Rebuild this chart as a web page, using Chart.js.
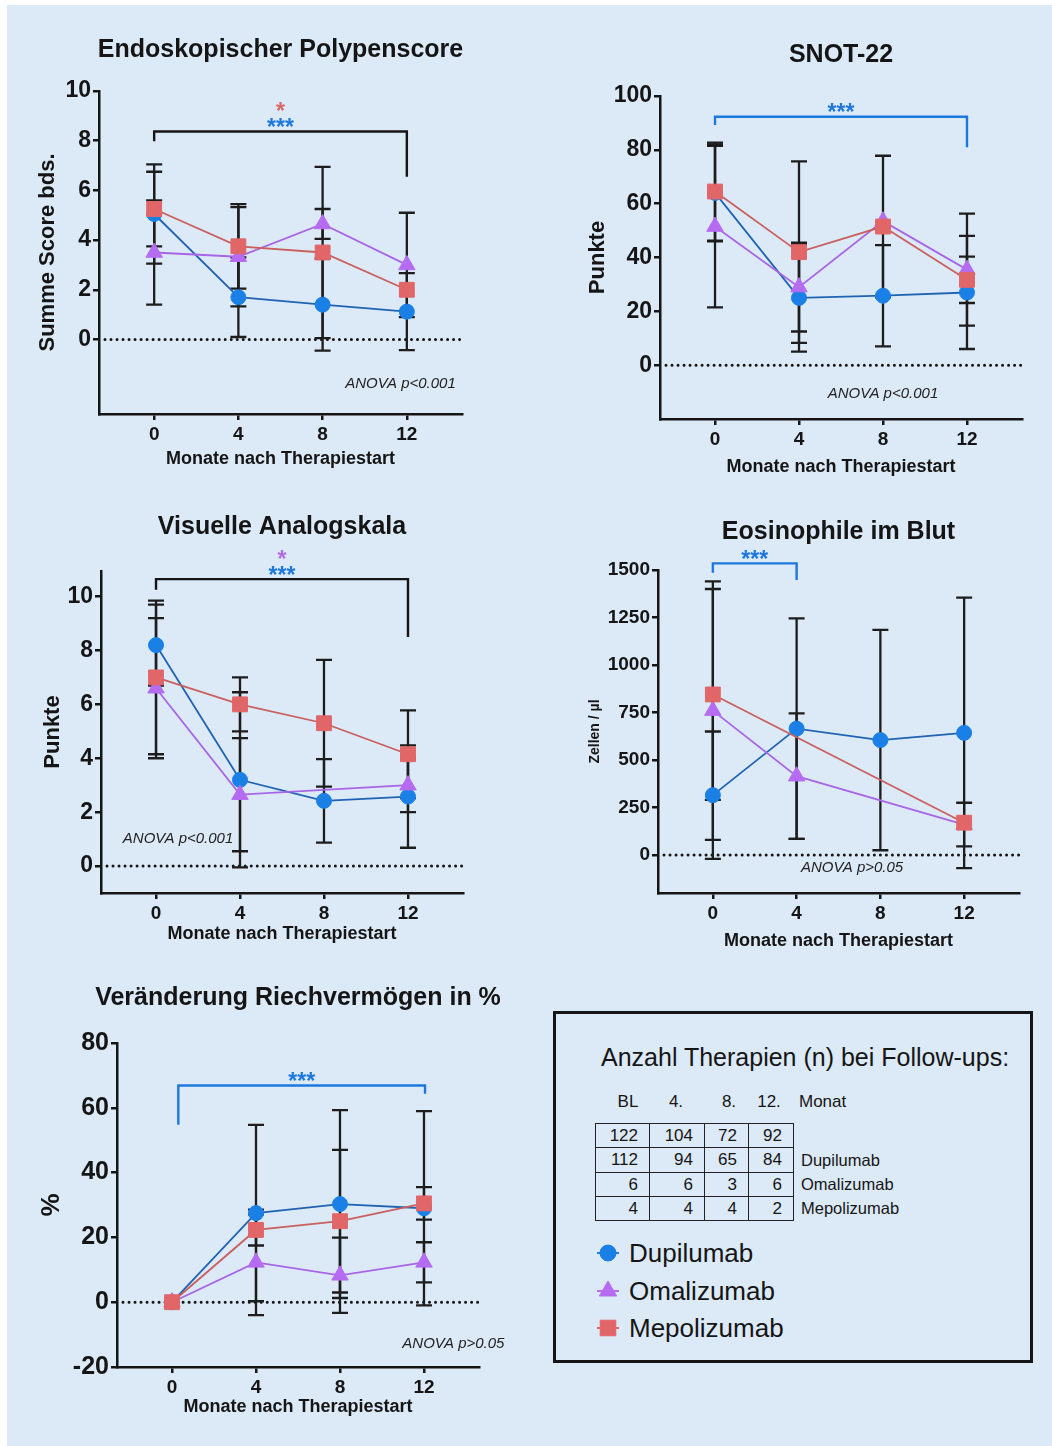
<!DOCTYPE html>
<html>
<head>
<meta charset="utf-8">
<script src="https://cdn.jsdelivr.net/npm/chart.js@4.4.1/dist/chart.umd.min.js"></script>
<style>
html, body { margin: 0; padding: 0; }
body { width: 1052px; height: 1446px; position: relative; overflow: hidden; background: #fff;
       font-family: 'Liberation Sans', Arial, Helvetica, sans-serif; color: #151515; }
#bg { position: absolute; left: 7px; top: 5px; right: 0; bottom: 0; background: #dce9f6; }
canvas { position: absolute; }
.abs { position: absolute; white-space: nowrap; }
#legendBox { position: absolute; left: 553px; top: 1011px; width: 480px; height: 352px;
             box-sizing: border-box; border: 3px solid #151515; }
#ntab { position: absolute; left: 595px; top: 1123px; border-collapse: collapse; table-layout: fixed; }
#ntab tr { height: 24.3px; }
#ntab td { border: 1.5px solid #222; padding: 0 11px 0 0; text-align: right;
           font-size: 17px; line-height: 21px; }
</style>
</head>
<body>
<div id="bg"></div>
<div id="legendBox"></div>

<script>
// ---- data ----
const months = [0, 4, 8, 12];
const xTicks = [0, 4, 8, 12];
const drugs = ['Dupilumab', 'Omalizumab', 'Mepolizumab'];
const fillColors = ['#1b80e6', '#b56cf0', '#e06668'];
const lineColors = ['#1f63b3', '#a865e6', '#c9605f'];
const shapes = ['circle', 'triangle', 'rect'];
const radii = [7.5, 9.5, 10.5];

// Endoskopischer Polypenscore (mean, SD)
const npsDupi = [5.05, 1.7, 1.4, 1.12];
const npsDupiSd = [2.0, 1.6, 1.85, 1.55];
const npsOmal = [3.5, 3.33, 4.65, 3.0];
const npsOmalSd = [2.1, 2.0, 0.6, 2.1];
const npsMepo = [5.25, 3.75, 3.5, 2.0];
const npsMepoSd = [1.5, 1.7, 3.45, 0];
const npsTicks = [0, 2, 4, 6, 8, 10];

// SNOT-22
const snotDupi = [64, 25, 25.8, 27];
const snotDupiSd = [18, 20, 18.8, 21];
const snotOmal = [51.5, 29, 53.5, 35.5];
const snotOmalSd = [30, 16.5, 0, 20.8];
const snotMepo = [64.5, 42, 51.5, 31.7];
const snotMepoSd = [18.2, 33.7, 26.3, 8.6];
const snotTicks = [0, 20, 40, 60, 80, 100];

// Visuelle Analogskala
const vasDupi = [8.2, 3.2, 2.42, 2.58];
const vasDupiSd = [1.5, 3.25, 1.55, 1.9];
const vasOmal = [6.6, 2.65, null, 3.0];
const vasOmalSd = [2.6, 2.1, null, 1.0];
const vasMepo = [7.0, 6.0, 5.3, 4.15];
const vasMepoSd = [2.85, 1.0, 2.35, 1.63];
const vasTicks = [0, 2, 4, 6, 8, 10];

// Eosinophile im Blut
const eosDupi = [315, 665, 605, 643];
const eosDupiSd = [335, 580, 580, 712];
const eosOmal = [760, 415, null, 160];
const eosOmalSd = [680, 330, null, 115];
const eosMepo = [845, null, null, 170];
const eosMepoSd = [555, null, null, 0];
const eosTicks = [0, 250, 500, 750, 1000, 1250, 1500];

// Veränderung Riechvermögen in %
const smellDupi = [0, 27.5, 30.3, 29.0];
const smellDupiSd = [0, 27.2, 29, 30];
const smellOmal = [0, 12.3, 8.3, 12.3];
const smellOmalSd = [0, 16.3, 11.6, 6.2];
const smellMepo = [0, 22.3, 25.0, 30.5];
const smellMepoSd = [0, 4.8, 22, 5];
const smellTicks = [-20, 0, 20, 40, 60, 80];

// Anzahl Therapien (n)
const nHeaders = ['BL', '4.', '8.', '12.'];
const nTotal = [122, 104, 72, 92];
const nDupi = [112, 94, 65, 84];
const nOmal = [6, 6, 3, 6];
const nMepo = [4, 4, 4, 2];

// ---- style ----
const ink = '#151515';
const blue = '#1c78de';
const red = '#d9676a';
const purple = '#b36ae8';
const family = "'Liberation Sans', Arial, Helvetica, sans-serif";

const panels = [
  { title: 'Endoskopischer Polypenscore', titleGap: 41,
    box: { x: 20, y: 20, w: 490, h: 460 }, area: { l: 99, t: 91, r: 462, b: 414 },
    yMin: -3, yMax: 10, yTicks: npsTicks, yTitle: 'Summe Score bds.', yTitleSize: 22, yTitleX: 48,
    xTitleY: 459, tickSize: 23,
    values: [npsDupi, npsOmal, npsMepo], sd: [npsDupiSd, npsOmalSd, npsMepoSd],
    bracket: { x1: 0, x2: 12, top: 8.37, left: 7.98, right: 6.55, color: ink, stars: [['***', blue], ['*', red]] },
    anova: { text: 'ANOVA p<0.001', x: 11.7, y: -1.8 } },
  { title: 'SNOT-22', titleGap: 41,
    box: { x: 560, y: 25, w: 485, h: 460 }, area: { l: 660, t: 96, r: 1022, b: 419 },
    yMin: -20, yMax: 100, yTicks: snotTicks, yTitle: 'Punkte', yTitleSize: 22, yTitleX: 598,
    xTitleY: 467, tickSize: 23,
    values: [snotDupi, snotOmal, snotMepo], sd: [snotDupiSd, snotOmalSd, snotMepoSd],
    bracket: { x1: 0, x2: 12, top: 92.3, left: 89.2, right: 81, color: blue, stars: [['***', blue]] },
    anova: { text: 'ANOVA p<0.001', x: 8.0, y: -10.8 } },
  { title: 'Visuelle Analogskala', titleGap: 44,
    box: { x: 20, y: 495, w: 490, h: 455 }, area: { l: 101, t: 571, r: 463, b: 893 },
    yMin: -1, yMax: 10.95, yTicks: vasTicks, yTitle: 'Punkte', yTitleSize: 22, yTitleX: 53,
    xTitleY: 934, tickSize: 23,
    values: [vasDupi, vasOmal, vasMepo], sd: [vasDupiSd, vasOmalSd, vasMepoSd],
    bracket: { x1: 0, x2: 12, top: 10.65, left: 10.25, right: 8.5, color: ink, stars: [['***', blue], ['*', purple]] },
    anova: { text: 'ANOVA p<0.001', x: 1.05, y: 1.0 } },
  { title: 'Eosinophile im Blut', titleGap: 38,
    box: { x: 560, y: 495, w: 485, h: 465 }, area: { l: 658, t: 570, r: 1019, b: 893 },
    yMin: -200, yMax: 1500, yTicks: eosTicks, yTitle: 'Zellen / µl', yTitleSize: 14, yTitleX: 595,
    xTitleY: 941, tickSize: 19,
    values: [eosDupi, eosOmal, eosMepo], sd: [eosDupiSd, eosOmalSd, eosMepoSd],
    bracket: { x1: 0, x2: 4, top: 1535, left: 1486, right: 1447, color: blue, stars: [['***', blue]] },
    anova: { text: 'ANOVA p>0.05', x: 6.65, y: -68 } },
  { title: 'Veränderung Riechvermögen in %', titleGap: 45,
    box: { x: 20, y: 965, w: 515, h: 460 }, area: { l: 117, t: 1043, r: 479, b: 1367 },
    yMin: -20, yMax: 80, yTicks: smellTicks, yTitle: '%', yTitleSize: 26, yTitleX: 52,
    xTitleY: 1407, tickSize: 25,
    values: [smellDupi, smellOmal, smellMepo], sd: [smellDupiSd, smellOmalSd, smellMepoSd],
    bracket: { x1: 0.3, x2: 12.05, top: 66.9, left: 54.8, right: 64.3, color: blue, stars: [['***', blue]] },
    anova: { text: 'ANOVA p>0.05', x: 13.4, y: -12.9 } }
];

const extras = {
  id: 'extras',
  beforeDatasetsDraw(chart) {
    const { ctx, chartArea: a, scales: { x, y } } = chart;
    // dotted zero line
    ctx.save();
    ctx.strokeStyle = ink;
    ctx.lineWidth = 3;
    ctx.lineCap = 'round';
    ctx.setLineDash([0.01, 6]);
    const y0 = y.getPixelForValue(0);
    ctx.beginPath();
    ctx.moveTo(a.left + 6, y0);
    ctx.lineTo(a.right, y0);
    ctx.stroke();
    ctx.restore();

    // error bars (mean +/- SD)
    ctx.save();
    ctx.strokeStyle = '#1d1d1d';
    ctx.lineWidth = 2.3;
    chart.data.datasets.forEach(ds => {
      ds.data.forEach((pt, j) => {
        const e = ds.sd[j];
        if (pt.y == null || !e) return;
        const px = x.getPixelForValue(pt.x);
        const hi = y.getPixelForValue(pt.y + e);
        const lo = y.getPixelForValue(pt.y - e);
        ctx.beginPath();
        ctx.moveTo(px, hi); ctx.lineTo(px, lo);
        ctx.moveTo(px - 8, hi); ctx.lineTo(px + 8, hi);
        ctx.moveTo(px - 8, lo); ctx.lineTo(px + 8, lo);
        ctx.stroke();
      });
    });
    ctx.restore();
  },
  afterDraw(chart) {
    const p = chart.options.plugins.extras;
    const { ctx, chartArea: a, scales: { x, y } } = chart;
    ctx.save();
    // panel title
    ctx.fillStyle = ink;
    ctx.font = `bold 25px ${family}`;
    ctx.textAlign = 'center';
    ctx.textBaseline = 'middle';
    ctx.fillText(p.title, (a.left + a.right) / 2, a.top - p.titleGap);

    // significance bracket
    const b = p.bracket;
    const bx1 = x.getPixelForValue(b.x1), bx2 = x.getPixelForValue(b.x2);
    const by = y.getPixelForValue(b.top);
    ctx.strokeStyle = b.color;
    ctx.lineWidth = 2.4;
    ctx.beginPath();
    ctx.moveTo(bx1, y.getPixelForValue(b.left));
    ctx.lineTo(bx1, by);
    ctx.lineTo(bx2, by);
    ctx.lineTo(bx2, y.getPixelForValue(b.right));
    ctx.stroke();
    ctx.font = `bold 23px ${family}`;
    ctx.textBaseline = 'alphabetic';
    b.stars.forEach((s, k) => {
      ctx.fillStyle = s[1];
      ctx.fillText(s[0], (bx1 + bx2) / 2, by - 9.5 - 15.5 * k + 13);
    });

    // ANOVA note
    ctx.fillStyle = '#222';
    ctx.font = `italic 15px ${family}`;
    ctx.textBaseline = 'middle';
    ctx.fillText(p.anova.text, x.getPixelForValue(p.anova.x), y.getPixelForValue(p.anova.y));
    ctx.restore();
  }
};

panels.forEach(p => {
  const canvas = document.createElement('canvas');
  canvas.width = p.box.w;
  canvas.height = p.box.h;
  canvas.style.left = p.box.x + 'px';
  canvas.style.top = p.box.y + 'px';
  canvas.style.width = p.box.w + 'px';
  canvas.style.height = p.box.h + 'px';
  document.body.appendChild(canvas);

  const yWidth = p.area.l - p.box.x;
  const xHeight = p.box.y + p.box.h - p.area.b;
  const yLh = p.yTitleSize * 1.2;
  const xLh = 18 * 1.2;

  new Chart(canvas, {
    type: 'line',
    data: {
      datasets: drugs.map((name, i) => ({
        label: name,
        data: months.map((m, k) => ({ x: m, y: p.values[i][k] })),
        sd: p.sd[i],
        borderColor: lineColors[i],
        borderWidth: 1.8,
        pointStyle: shapes[i],
        pointRadius: radii[i],
        pointHoverRadius: radii[i],
        pointBackgroundColor: fillColors[i],
        pointBorderColor: fillColors[i],
        pointBorderWidth: 1,
        spanGaps: true,
        tension: 0,
        order: 2 - i
      }))
    },
    options: {
      responsive: false,
      animation: false,
      devicePixelRatio: 1,
      layout: { padding: { left: 0, top: p.area.t - p.box.y, right: p.box.x + p.box.w - p.area.r, bottom: 0 } },
      plugins: { legend: { display: false }, tooltip: { enabled: false }, extras: p },
      scales: {
        x: {
          type: 'linear', min: -2.62, max: 14.62,
          afterBuildTicks: s => { s.ticks = xTicks.map(v => ({ value: v })); },
          afterFit: s => { s.height = xHeight; },
          grid: { drawOnChartArea: false, drawTicks: true, tickLength: 6, color: ink, lineWidth: 2.5 },
          border: { display: true, color: ink, width: 2.5 },
          ticks: { color: ink, font: { family, size: 19, weight: 'bold' }, padding: 3, maxRotation: 0, autoSkip: false,
                   callback: v => String(v) },
          title: { display: true, text: 'Monate nach Therapiestart', color: ink,
                   font: { family, size: 18, weight: 'bold' },
                   padding: { top: 0, bottom: p.box.y + p.box.h - p.xTitleY - xLh / 2 } }
        },
        y: {
          type: 'linear', min: p.yMin, max: p.yMax,
          afterBuildTicks: s => { s.ticks = p.yTicks.map(v => ({ value: v })); },
          afterFit: s => { s.width = yWidth; },
          grid: { drawOnChartArea: false, drawTicks: true, tickLength: 6, color: ink, lineWidth: 2.5 },
          border: { display: true, color: ink, width: 2.5 },
          ticks: { color: ink, font: { family, size: p.tickSize, weight: 'bold' }, padding: 2, autoSkip: false,
                   callback: v => String(v) },
          title: { display: true, text: p.yTitle, color: ink,
                   font: { family, size: p.yTitleSize, weight: 'bold' },
                   padding: { top: p.yTitleX - p.box.x - yLh / 2, bottom: 0 } }
        }
      }
    },
    plugins: [extras]
  });
});

// ---- legend box with table ----
function addText(text, left, centerY, size, extra) {
  const d = document.createElement('div');
  d.className = 'abs';
  d.textContent = text;
  d.style.fontSize = size + 'px';
  d.style.lineHeight = Math.round(size * 1.2) + 'px';
  d.style.top = (centerY - Math.round(size * 1.2) / 2) + 'px';
  if (extra === 'center') {
    d.style.left = (left - 50) + 'px';
    d.style.width = '100px';
    d.style.textAlign = 'center';
  } else {
    d.style.left = left + 'px';
  }
  document.body.appendChild(d);
  return d;
}

addText('Anzahl Therapien (n) bei Follow-ups:', 601, 1057, 25);
const headerCenters = [628, 676, 729, 769];
nHeaders.forEach((h, i) => addText(h, headerCenters[i], 1102, 17, 'center'));
addText('Monat', 799, 1102, 17);

const table = document.createElement('table');
table.id = 'ntab';
const colWidths = [54, 55, 44, 45];
const colgroup = document.createElement('colgroup');
colWidths.forEach(w => { const c = document.createElement('col'); c.style.width = w + 'px'; colgroup.appendChild(c); });
table.appendChild(colgroup);
[nTotal, nDupi, nOmal, nMepo].forEach(row => {
  const tr = document.createElement('tr');
  row.forEach(v => { const td = document.createElement('td'); td.textContent = v; tr.appendChild(td); });
  table.appendChild(tr);
});
document.body.appendChild(table);
const rowCenters = [1160, 1184, 1208];
drugs.forEach((d, i) => addText(d, 801, rowCenters[i], 16.5));

// legend keys
const keyCenters = [1253, 1291, 1328];
drugs.forEach((d, i) => {
  const c = document.createElement('canvas');
  c.width = 30; c.height = 26;
  c.style.left = (608 - 15) + 'px';
  c.style.top = (keyCenters[i] - 13) + 'px';
  document.body.appendChild(c);
  const ctx = c.getContext('2d');
  ctx.strokeStyle = fillColors[i];
  ctx.lineWidth = 2;
  ctx.beginPath(); ctx.moveTo(4, 13); ctx.lineTo(26, 13); ctx.stroke();
  ctx.fillStyle = fillColors[i];
  ctx.strokeStyle = fillColors[i];
  ctx.lineWidth = 1;
  Chart.helpers.drawPoint(ctx, { pointStyle: shapes[i], radius: radii[i] + 0.5, borderWidth: 1 }, 15, 13);
  addText(d, 629, keyCenters[i], 26);
});
</script>
</body>
</html>
